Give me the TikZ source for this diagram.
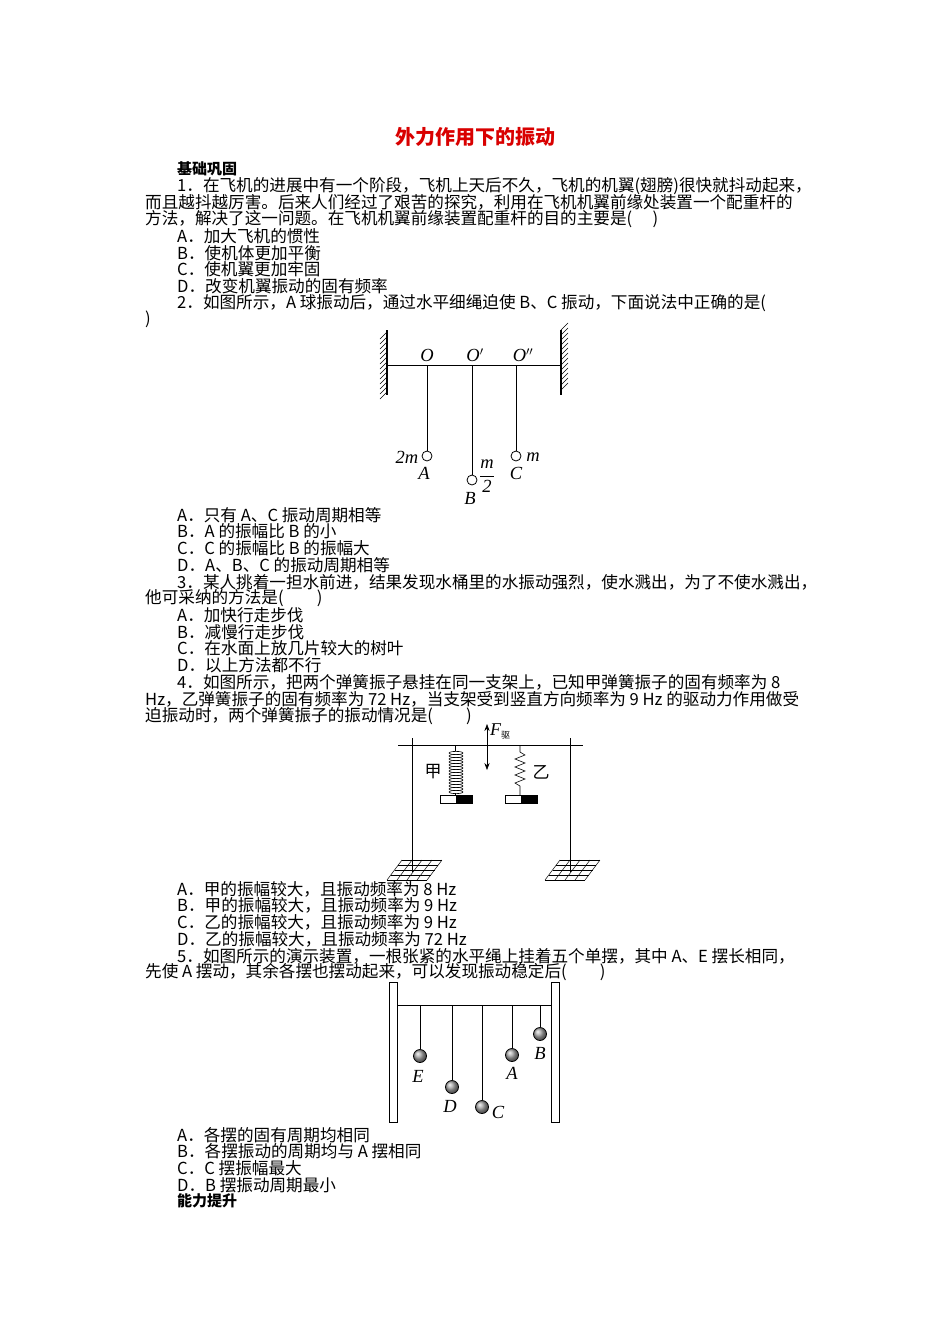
\documentclass[tikz,border=0pt]{standalone}
\usepackage{fontspec}
\setmainfont{Liberation Serif}
\newfontfamily\cjk{Noto Sans CJK SC}
\usetikzlibrary{patterns,arrows.meta}
\begin{document}
\begin{tikzpicture}[x=1pt,y=-1pt,
  tl/.style={anchor=west,inner sep=0pt,font=\cjk\fontsize{16.6}{17}\selectfont},
  lab/.style={inner sep=0pt,font=\fontsize{18.5}{19}\selectfont\itshape},
  ln/.style={line width=0.9pt},
  ball/.style={draw,line width=0.8pt,fill=white},
  gball/.style={ball,shade,ball color=gray!70}]
\useasboundingbox (0,0) rectangle (950,1344);
\fill[white] (0,0) rectangle (950,1344);
\node[inner sep=0pt,font=\cjk\bfseries\fontsize{20}{21}\selectfont,text=red!85!black] (title) at (475,137) {外力作用下的振动};
\node[tl,font=\cjk\bfseries\fontsize{15}{16}\selectfont] (h1) at (177,169) {基础巩固};
\node[tl] (l1) at (177,186) {1．在飞机的进展中有一个阶段，飞机上天后不久，飞机的机翼(翅膀)很快就抖动起来，};
\node[tl] (l2) at (145,202) {而且越抖越厉害。后来人们经过了艰苦的探究，利用在飞机机翼前缘处装置一个配重杆的};
\node[tl] (l3) at (145,219) {方法，解决了这一问题。在飞机机翼前缘装置配重杆的目的主要是(\quad\ )};
\node[tl] (l4) at (177,236) {A．加大飞机的惯性};
\node[tl] (l5) at (177,253) {B．使机体更加平衡};
\node[tl] (l6) at (177,269) {C．使机翼更加牢固};
\node[tl] (l7) at (177,286) {D．改变机翼振动的固有频率};
\node[tl] (l8) at (177,303) {2．如图所示，A 球振动后，通过水平细绳迫使 B、C 振动，下面说法中正确的是(};
\node[tl] (l9) at (145,319) {)};
% figure 1
\draw[line width=1.2pt] (387,330) -- (387,395) (561,330) -- (561,395);
\foreach \y in {330,335,...,390}{\draw[line width=0.5pt] (387,\y+2) -- (380,\y+9); \draw[line width=0.5pt] (561,\y) -- (568,\y-7);}
\draw[ln] (387,365) -- (561,365);
\coordinate (pa) at (427,365); \coordinate (pb) at (472,365); \coordinate (pc) at (516,365);
\node[ball,circle,minimum size=10pt,inner sep=0pt] (ba) at (427,456) {};
\node[ball,circle,minimum size=10pt,inner sep=0pt] (bb) at (472,480) {};
\node[ball,circle,minimum size=10pt,inner sep=0pt] (bc) at (516,456) {};
\draw[ln] (pa) -- (ba) (pb) -- (bb) (pc) -- (bc);
\node[lab] (o1) at (427,355) {O};
\node[lab] (o2) at (475,355) {O$'$};
\node[lab] (o3) at (523,355) {O$''$};
\node[lab] (m2) at (407,457) {2m};
\node[lab] (la) at (424,473) {A};
\node[lab] (mh) at (487,476) {$\displaystyle\frac{\textit{m}}{\textrm{2}}$};
\node[lab] (lb) at (470,498) {B};
\node[lab] (mm) at (533,457) {m};
\node[lab] (lc) at (516,473) {C};
\node[tl] (q1) at (177,515) {A．只有 A、C 振动周期相等};
\node[tl] (q2) at (177,531) {B．A 的振幅比 B 的小};
\node[tl] (q3) at (177,548) {C．C 的振幅比 B 的振幅大};
\node[tl] (q4) at (177,565) {D．A、B、C 的振动周期相等};
\node[tl] (r1) at (177,582) {3．某人挑着一担水前进，结果发现水桶里的水振动强烈，使水溅出，为了不使水溅出，};
\node[tl] (r2) at (145,598) {他可采纳的方法是(\qquad)};
\node[tl] (r3) at (177,615) {A．加快行走步伐};
\node[tl] (r4) at (177,632) {B．减慢行走步伐};
\node[tl] (r5) at (177,648) {C．在水面上放几片较大的树叶};
\node[tl] (r6) at (177,665) {D．以上方法都不行};
\node[tl] (s1) at (177,682) {4．如图所示，把两个弹簧振子悬挂在同一支架上，已知甲弹簧振子的固有频率为 8};
\node[tl] (s2) at (145,699) {Hz，乙弹簧振子的固有频率为 72 Hz，当支架受到竖直方向频率为 9 Hz 的驱动力作用做受};
\node[tl] (s3) at (145,716) {迫振动时，两个弹簧振子的振动情况是(\qquad)};
% figure 2
\draw[line width=0.7pt] (398,745) -- (583,745);
\draw[line width=0.7pt] (412,738) -- (412,872) (570,738) -- (570,872);
\foreach \cx in {412,570}{
  \foreach \i in {0,...,4}{\draw[line width=0.5pt] (\cx-25+\i*10,880) -- (\cx-10+\i*10,860);}
  \foreach \j in {0,...,4}{\draw[line width=0.5pt] (\cx-25+\j*3.75,880-\j*5) -- (\cx+15+\j*3.75,880-\j*5);}
}
% spring jia
\draw[line width=0.6pt] (455,745) -- (455,751);
\foreach \k in {0,...,13}{\draw[line width=0.6pt] (456,753+\k*3) ellipse (7pt and 1.6pt);}
\draw[line width=0.6pt] (455,793) -- (455,795);
\node[draw,line width=0.7pt,minimum width=16pt,minimum height=8pt,inner sep=0pt] (mj1) at (448,799) {};
\node[draw,fill=black,line width=0.7pt,minimum width=16pt,minimum height=8pt,inner sep=0pt] (mj2) at (464,799) {};
% spring yi
\draw[line width=0.6pt] (520,745) -- (520,752) -- (525,755) -- (515,759) -- (525,763) -- (515,767) -- (525,771) -- (515,775) -- (525,779) -- (515,783) -- (520,786) -- (520,795);
\node[draw,line width=0.7pt,minimum width=16pt,minimum height=8pt,inner sep=0pt] (my1) at (513,799) {};
\node[draw,fill=black,line width=0.7pt,minimum width=16pt,minimum height=8pt,inner sep=0pt] (my2) at (529,799) {};
\coordinate (fa) at (487,724); \coordinate (fb) at (487,770);
\draw[{Stealth[length=7pt]}-{Stealth[length=7pt]},line width=0.6pt] (fa) -- (fb);
\node[inner sep=0pt,anchor=west] (fq) at (490,731) {\fontsize{18}{19}\selectfont\itshape F\upshape\cjk\fontsize{9}{10}\selectfont\raisebox{-3pt}{驱}};
\node[inner sep=0pt,font=\cjk\fontsize{17}{18}\selectfont] (jia) at (433,772) {甲};
\node[inner sep=0pt,font=\cjk\fontsize{17}{18}\selectfont] (yi) at (541,772) {乙};
\node[tl] (t1) at (177,889) {A．甲的振幅较大，且振动频率为 8 Hz};
\node[tl] (t2) at (177,905) {B．甲的振幅较大，且振动频率为 9 Hz};
\node[tl] (t3) at (177,922) {C．乙的振幅较大，且振动频率为 9 Hz};
\node[tl] (t4) at (177,939) {D．乙的振幅较大，且振动频率为 72 Hz};
\node[tl] (u1) at (177,956) {5．如图所示的演示装置，一根张紧的水平绳上挂着五个单摆，其中 A、E 摆长相同，};
\node[tl] (u2) at (145,972) {先使 A 摆动，其余各摆也摆动起来，可以发现振动稳定后(\qquad)};
% figure 3
\draw[line width=0.7pt] (389,982) rectangle (397,1122) (551,982) rectangle (559,1122);
\draw[line width=0.7pt] (397,1005) -- (551,1005);
\foreach \n/\px/\py in {e/420/1056,d/452/1087,c/482/1107,a/512/1055,b/540/1034}{
  \coordinate (s\n) at (\px,1005);
  \node[gball,circle,minimum size=13pt,inner sep=0pt] (g\n) at (\px,\py) {};
  \draw[line width=0.7pt] (s\n) -- (g\n);
}
\node[lab] (le) at (418,1076) {E};
\node[lab] (ld) at (450,1106) {D};
\node[lab] (lcc) at (498,1112) {C};
\node[lab] (laa) at (512,1073) {A};
\node[lab] (lbb) at (540,1053) {B};
\node[tl] (v1) at (177,1135) {A．各摆的固有周期均相同};
\node[tl] (v2) at (177,1151) {B．各摆振动的周期均与 A 摆相同};
\node[tl] (v3) at (177,1168) {C．C 摆振幅最大};
\node[tl] (v4) at (177,1185) {D．B 摆振动周期最小};
\node[tl,font=\cjk\bfseries\fontsize{15}{16}\selectfont] (h2) at (177,1201) {能力提升};
\end{tikzpicture}
\end{document}
